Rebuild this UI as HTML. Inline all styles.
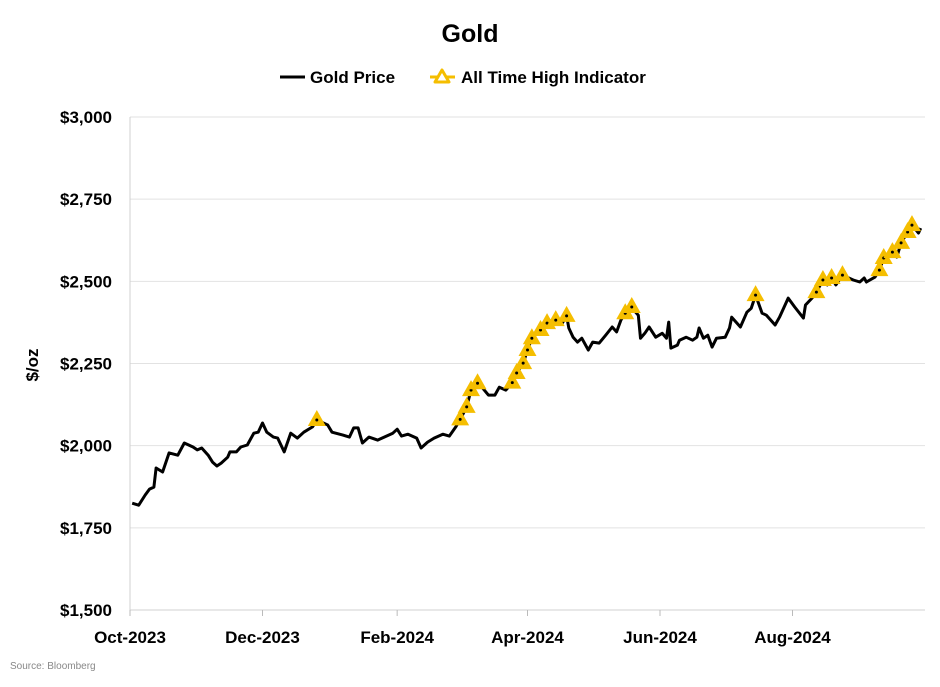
<!DOCTYPE html>
<html><head><meta charset="utf-8"><style>
body{margin:0;background:#fff;font-family:"Liberation Sans",sans-serif}
svg text{font-family:"Liberation Sans",sans-serif}
</style></head><body>
<svg id="chart" width="940" height="682">
<text x="470" y="42" text-anchor="middle" font-size="25" font-weight="bold">Gold</text>
<g>
<g><line x1="280" y1="77" x2="305" y2="77" stroke="#000" stroke-width="3"/><text x="310" y="83" font-size="17" font-weight="bold">Gold Price</text></g>
<g><line x1="430" y1="77" x2="455" y2="77" stroke="#F5BE00" stroke-width="3"/><polygon points="442,70 449,82 435,82" fill="#fff" stroke="#F5BE00" stroke-width="3" stroke-linejoin="round"/><text x="461" y="83" font-size="17" font-weight="bold">All Time High Indicator</text></g>
</g>
<g id="grid"></g><g id="axes"></g><g id="series"></g><g id="markers"></g>
<text transform="translate(38,365) rotate(-90)" text-anchor="middle" font-size="17" font-weight="bold">$/oz</text>
<text x="10" y="669" font-size="10" fill="#888">Source: Bloomberg</text>
</svg>
<script>
const days=[1,4,7,9,11,12,15,18,22,25,29,31,33,36,38,40,42,45,46,49,51,54,57,59,61,63,66,68,71,74,77,80,84,86,91,93,98,101,103,105,107,110,114,116,121,123,125,128,132,134,137,140,144,147,150,152,155,157,160,162,165,168,170,173,176,178,181,183,185,189,192,196,199,201,202,204,206,208,211,213,216,219,222,224,226,228,231,232,234,235,237,239,242,245,247,248,249,252,253,256,259,261,262,264,266,268,270,274,276,277,281,284,286,288,291,293,297,299,303,306,310,311,314,316,319,321,323,325,328,330,333,336,338,339,343,345,347,351,353,355,358,360,363,364];
const prices=[1825,1819,1850,1868,1874,1932,1920,1978,1971,2008,1996,1987,1993,1971,1950,1938,1947,1965,1981,1981,1996,2002,2038,2041,2069,2041,2026,2023,1981,2038,2023,2041,2057,2078,2063,2041,2032,2026,2054,2054,2008,2026,2017,2023,2038,2050,2029,2035,2023,1993,2011,2023,2035,2029,2057,2080,2118,2169,2190,2178,2154,2154,2178,2169,2192,2221,2251,2291,2327,2352,2373,2382,2373,2395,2358,2330,2315,2327,2291,2315,2312,2336,2361,2346,2382,2403,2422,2412,2397,2327,2342,2361,2330,2342,2327,2376,2297,2306,2321,2330,2321,2330,2358,2327,2336,2300,2327,2330,2358,2391,2361,2406,2418,2458,2403,2397,2367,2391,2449,2422,2388,2428,2449,2467,2504,2489,2510,2489,2519,2513,2504,2498,2510,2498,2513,2534,2571,2589,2574,2617,2650,2671,2647,2662];
const yTicks=[1500,1750,2000,2250,2500,2750,3000];
const xTickDays=[0,61,123,183,244,305];
const xTickLabels=["Oct-2023","Dec-2023","Feb-2024","Apr-2024","Jun-2024","Aug-2024"];
const priorRecord=2070;
const NS="http://www.w3.org/2000/svg";
const X0=130,X1=925,Y0=610,Y1=117;
const xs=d=>X0+d/366*(X1-X0);
const ys=p=>Y0-(p-1500)/1500*(Y0-Y1);
function mk(t,a,p){const e=document.createElementNS(NS,t);for(const k in a)e.setAttribute(k,a[k]);p.appendChild(e);return e;}
const grid=document.getElementById('grid'),axes=document.getElementById('axes');
yTicks.forEach(v=>{
 const l=mk('line',{x1:X0,x2:X1,y1:ys(v),y2:ys(v),stroke:'#e2e2e2','stroke-width':1},grid);
 
 
 const t=mk('text',{x:112,y:ys(v)+6,'text-anchor':'end','font-size':17,'font-weight':'bold'},axes);
 t.textContent='$'+v.toLocaleString('en-US');
 
 
});
const ax=mk('line',{x1:X0,x2:X0,y1:Y1,y2:Y0,stroke:'#d0d0d0','stroke-width':1},axes);


const ax2=mk('line',{x1:X0,x2:X1,y1:Y0,y2:Y0,stroke:'#d0d0d0','stroke-width':1},axes);


xTickDays.forEach((d,i)=>{
 const tk=mk('line',{x1:xs(d),x2:xs(d),y1:Y0,y2:Y0+6,stroke:'#bbb'},axes);
 
 
 const t=mk('text',{x:xs(d),y:643,'text-anchor':'middle','font-size':17,'font-weight':'bold'},axes);
 t.textContent=xTickLabels[i];
 
 
});
const pts=days.map((d,i)=>xs(d).toFixed(1)+','+ys(prices[i]).toFixed(1)).join(' ');
const line=mk('polyline',{points:pts,fill:'none',stroke:'#000','stroke-width':3,'stroke-linejoin':'round'},document.getElementById('series'));


let mx=priorRecord;const mg=document.getElementById('markers');
prices.forEach((p,i)=>{
 if(p>=mx){mx=p;const x=xs(days[i]),y=ys(p);
  const tri=mk('polygon',{points:`${x},${y-10} ${x+9},${y+6} ${x-9},${y+6}`,fill:'#F5BE00'},mg);
  
  
  mk('circle',{cx:x,cy:y,r:1.5,fill:'#000'},mg);
 }
});
</script>
</body></html>
